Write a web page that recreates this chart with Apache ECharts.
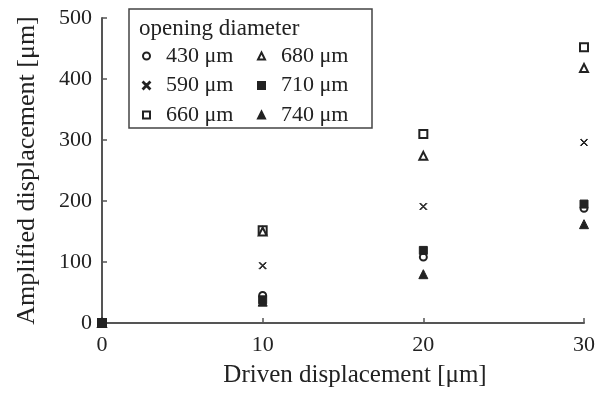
<!DOCTYPE html>
<html>
<head>
<meta charset="utf-8">
<script src="https://cdn.jsdelivr.net/npm/echarts@6/dist/echarts.min.js"></script>
<title>Amplified displacement</title>
</head>
<body style="margin:0;background:#fff">
<div id="main" style="width:598px;height:393px"></div>
<script type="text/javascript">
// driven displacement [um]
var driven = [0, 10, 20, 30];
var names = ['430 μm', '590 μm', '660 μm', '680 μm', '710 μm', '740 μm'];
// amplified displacement [um] for each opening diameter
var d430 = [0, 45, 108, 188];
var d590 = [0, 94, 191, 296];
var d660 = [0, 152, 310, 452];
var d680 = [0, 150, 274, 418];
var d710 = [0, 38, 119, 195];
var d740 = [0, 35, 80, 162];
var yTicks = [0, 100, 200, 300, 400, 500];
var xTicks = [0, 10, 20, 30];

var ink = '#222';
var font = 'Liberation Serif';
var crossPath = 'path://M0,0.8L0.8,0L5,4.2L9.2,0L10,0.8L5.8,5L10,9.2L9.2,10L5,5.8L0.8,10L0,9.2L4.2,5Z';

function pts(vals) {
	var res = [];
	for (var i = 0; i < driven.length; i++) res.push([driven[i], vals[i]]);
	return res;
}

var styles = [
	{ symbol: 'emptyCircle', size: 7 },
	{ symbol: crossPath, size: 7 },
	{ symbol: 'emptyRect', size: 8 },
	{ symbol: 'emptyTriangle', size: 8 },
	{ symbol: 'rect', size: 8 },
	{ symbol: 'triangle', size: 9 }
];
var values = [d430, d590, d660, d680, d710, d740];

var series = [];
for (var i = 0; i < names.length; i++) {
	series.push({
		name: names[i],
		type: 'scatter',
		symbol: styles[i].symbol,
		symbolSize: styles[i].size,
		data: pts(values[i]),
		itemStyle: { color: ink, borderColor: ink, borderWidth: 1, opacity: 1 }
	});
}

var legendText = { fontFamily: font, fontSize: 22, color: ink, lineHeight: 20, padding: [0, 0, 0, 11] };

var myChart = echarts.init(document.getElementById('main'));
myChart.setOption({
	backgroundColor: '#fff',
	animation: false,
	grid: { left: 102, right: 10, top: 18, bottom: 69 },
	title: {
		text: 'opening diameter',
		left: 139, top: 17, padding: 0,
		textStyle: { fontFamily: font, fontSize: 23, fontWeight: 'normal', color: ink }
	},
	graphic: [{
		type: 'rect',
		shape: { x: 129, y: 9, width: 243, height: 119 },
		style: { fill: 'none', stroke: '#444', lineWidth: 1.5 }
	}],
	legend: [
		{
			data: [names[0], names[1], names[2]],
			orient: 'vertical', left: 142, top: 45, padding: 0,
			itemWidth: 7, itemHeight: 7, itemGap: 7.5,
			textStyle: legendText
		},
		{
			data: [names[3], names[4], names[5]],
			orient: 'vertical', left: 257, top: 45, padding: 0,
			itemWidth: 7, itemHeight: 7, itemGap: 7.5,
			textStyle: legendText
		}
	],
	xAxis: {
		type: 'value', min: xTicks[0], max: xTicks[xTicks.length - 1], interval: 10,
		name: 'Driven displacement [μm]', nameLocation: 'middle', nameGap: 40,
		nameTextStyle: { fontFamily: font, fontSize: 25, color: ink, padding: [0, 0, 0, 24] },
		axisLine: { lineStyle: { color: '#555', width: 2 } },
		axisTick: { inside: true, length: 5, lineStyle: { color: '#555', width: 1.5 } },
		axisLabel: { fontFamily: font, fontSize: 22, color: ink, margin: 11 },
		splitLine: { show: false }
	},
	yAxis: {
		type: 'value', min: yTicks[0], max: yTicks[yTicks.length - 1], interval: 100,
		name: 'Amplified displacement [μm]', nameLocation: 'middle', nameGap: 62,
		nameTextStyle: { fontFamily: font, fontSize: 26, color: ink },
		axisLine: { lineStyle: { color: '#555', width: 2 } },
		axisTick: { inside: true, length: 5, lineStyle: { color: '#555', width: 1.5 } },
		axisLabel: { fontFamily: font, fontSize: 22, color: ink, margin: 10 },
		splitLine: { show: false }
	},
	series: series
});
</script>
</body>
</html>
